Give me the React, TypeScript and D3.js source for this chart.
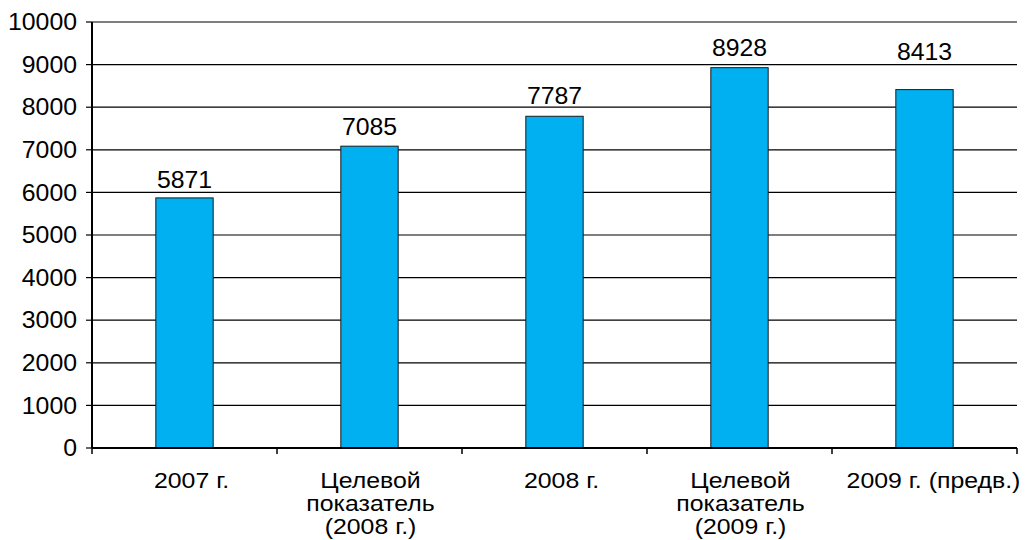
import React from "react";
import * as d3 from "d3";

const categories: string[][] = [
  ["2007 г."],
  ["Целевой", "показатель", "(2008 г.)"],
  ["2008 г."],
  ["Целевой", "показатель", "(2009 г.)"],
  ["2009 г. (предв.)"],
];
const values: number[] = [5871, 7085, 7787, 8928, 8413];
const yTicks: number[] = [0, 1000, 2000, 3000, 4000, 5000, 6000, 7000, 8000, 9000, 10000];
const labelLift: number[] = [10, 11, 12, 12, 30];

const W = 1025;
const H = 540;
const left = 92;
const right = 1017;
const top = 22;
const bottom = 448;
const FONT = "'Liberation Sans', Arial, sans-serif";

function T(props: {
  x: number;
  y: number;
  anchor: "start" | "middle" | "end";
  dy?: string;
  size?: number;
  sx?: number;
  children: React.ReactNode;
}) {
  const size = props.size ?? 23;
  const sx = props.sx ?? 1.08;
  return (
    <g transform={`translate(${props.x},${props.y}) scale(${sx},1)`}>
      <text x={0} y={0} dy={props.dy} textAnchor={props.anchor} fontSize={size} fill="#000">
        {props.children}
      </text>
    </g>
  );
}

export default function App() {
  const x = d3
    .scaleBand<number>()
    .domain(values.map((_, i) => i))
    .range([left, right])
    .paddingInner(0.69)
    .paddingOuter(0.345);
  const band = (right - left) / values.length;
  const y = d3.scaleLinear().domain([0, 10000]).range([bottom, top]);
  const cx = (i: number) => (x(i) as number) + x.bandwidth() / 2;

  return (
    <svg
      width={W}
      height={H}
      style={{ position: "absolute", left: 0, top: 0, background: "#fff" }}
      fontFamily={FONT}
    >
      {yTicks.map((t) => (
        <g key={t}>
          {t > 0 && (
            <line x1={left} x2={right} y1={y(t)} y2={y(t)} stroke="#000" strokeWidth={1.2} />
          )}
          <line x1={left - 6} x2={left} y1={y(t)} y2={y(t)} stroke="#000" strokeWidth={1.2} />
          <T x={left - 15} y={y(t)} dy="0.36em" anchor="end">
            {t}
          </T>
        </g>
      ))}
      {values.map((v, i) => (
        <rect
          key={i}
          x={x(i)}
          y={y(v)}
          width={x.bandwidth()}
          height={y(0) - y(v)}
          fill="#00B0F0"
          stroke="#1a1a1a"
          strokeWidth={1}
        />
      ))}
      {values.map((v, i) => (
        <T key={"l" + i} x={cx(i)} y={y(v) - labelLift[i]} anchor="middle">
          {v}
        </T>
      ))}
      <line x1={left} x2={left} y1={top} y2={bottom} stroke="#000" strokeWidth={2} />
      <line x1={left} x2={right} y1={bottom} y2={bottom} stroke="#000" strokeWidth={2} />
      {d3.range(values.length + 1).map((k) => (
        <line
          key={"t" + k}
          x1={left + k * band}
          x2={left + k * band}
          y1={bottom}
          y2={bottom + 6}
          stroke="#000"
          strokeWidth={1.5}
        />
      ))}
      {categories.map((lines, i) =>
        lines.map((ln, j) => (
          <T
            key={"c" + i + "-" + j}
            x={cx(i) + (lines.length === 1 ? (i === categories.length - 1 ? 9 : 7) : 1)}
            y={488 + j * 23}
            anchor="middle"
            size={22}
            sx={1.13}
          >
            {ln}
          </T>
        ))
      )}
    </svg>
  );
}
